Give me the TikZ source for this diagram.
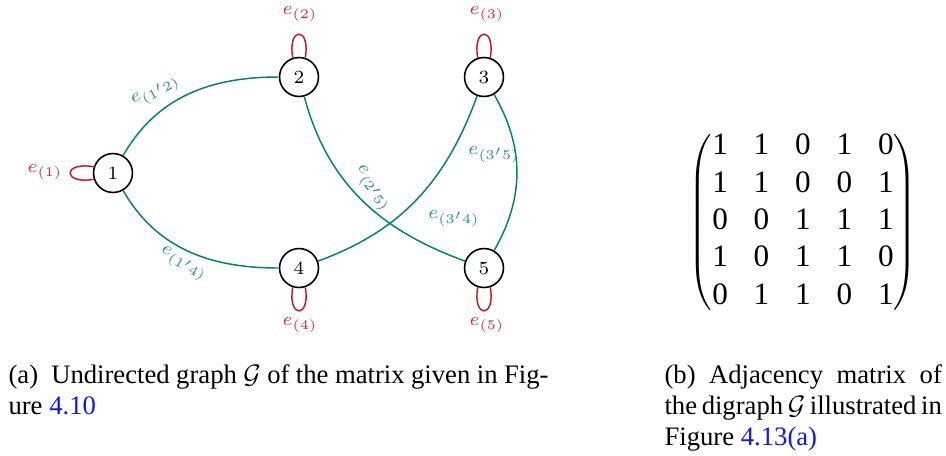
\documentclass[tikz,border=0pt]{standalone}
\usepackage{fontspec}
\newfontfamily\capfont{Liberation Serif}
\definecolor{edgeteal}{RGB}{0,128,120}
\definecolor{labteal}{RGB}{40,145,135}
\definecolor{loopred}{RGB}{200,20,40}
\definecolor{labred}{RGB}{215,40,60}
\definecolor{linkblue}{RGB}{20,20,240}
\begin{document}
\begin{tikzpicture}[x=0.375pt,y=-0.375pt,
  vtx/.style={circle,draw,line width=0.6pt,minimum size=14.6pt,inner sep=0pt,font=\fontsize{7.5}{9}\selectfont},
  edg/.style={draw=edgeteal,line width=0.55pt},
  lp/.style={draw=loopred,line width=0.55pt},
  elab/.style={text=labteal,font=\fontsize{7.5}{9}\selectfont,inner sep=0pt},
  llab/.style={text=labred,font=\fontsize{7.5}{9}\selectfont,inner sep=0pt},
  captext/.style={font=\capfont\fontsize{10}{11.6}\selectfont, anchor=base west, inner sep=0pt}]
\useasboundingbox (0,0) rectangle (946,455);
% vertices
\node[vtx] (n1) at (113,173) {$1$};
\node[vtx] (n2) at (299,77) {$2$};
\node[vtx] (n3) at (484,77) {$3$};
\node[vtx] (n4) at (299,268) {$4$};
\node[vtx] (n5) at (484,268) {$5$};
% loops
\draw[lp] (n1.162) to[out=170,in=190,distance=12pt] (n1.198);
\draw[lp] (n2.108) to[out=100,in=80,distance=12pt] (n2.72);
\draw[lp] (n3.108) to[out=100,in=80,distance=12pt] (n3.72);
\draw[lp] (n4.-108) to[out=-100,in=-80,distance=12pt] (n4.-72);
\draw[lp] (n5.-108) to[out=-100,in=-80,distance=12pt] (n5.-72);
\node[llab] (l1) at (45,172) {$e_{(1)}$};
\node[llab] (l2) at (300,14) {$e_{(2)}$};
\node[llab] (l3) at (487,14) {$e_{(3)}$};
\node[llab] (l4) at (300,325) {$e_{(4)}$};
\node[llab] (l5) at (487,325) {$e_{(5)}$};
% edges
\draw[edg] (n1) to[out=60,in=180] (n2);
\draw[edg] (n1) to[out=-60,in=180] (n4);
\draw[edg] (n2) to[out=-75,in=160] (n5);
\draw[edg] (n4) to[out=20,in=-110] (n3);
\draw[edg] (n3) to[out=-60,in=60] (n5);
% edge labels
\node[elab,rotate=27] (e12) at (156,92) {$e_{(1'2)}$};
\node[elab,rotate=-29] (e14) at (183,264) {$e_{(1'4)}$};
\node[elab,rotate=-55] (e25) at (372,189) {$e_{(2'5)}$};
\node[elab] (e34) at (454,219) {$e_{(3'4)}$};
\node[elab] (e35) at (494,155) {$e_{(3'5)}$};
% matrix
\node[font=\capfont\fontsize{11.7}{14}\selectfont,inner sep=0pt] (mat) at (803,222)
 {\setlength{\tabcolsep}{4.85pt}$\left(\begin{tabular}{@{}ccccc@{}}
 1&1&0&1&0\\ 1&1&0&0&1\\ 0&0&1&1&1\\ 1&0&1&1&0\\ 0&1&1&0&1
 \end{tabular}\right)$};
% captions
\node[captext] (ca1) at (8,383) {\makebox[202.5pt][s]{(a)\hspace{0.25em} Undirected graph $\mathcal{G}$ of the matrix given in Fig-}};
\node[captext] (ca2) at (8,414) {ure \textcolor{linkblue}{4.10}};
\node[captext] (cb1) at (664,383) {\makebox[104pt][s]{(b)\hfill Adjacency\hfill matrix\hfill of}};
\node[captext] (cb2) at (664,414) {\makebox[104pt][s]{the digraph $\mathcal{G}$ illustrated in}};
\node[captext] (cb3) at (664,445) {Figure \textcolor{linkblue}{4.13(a)}};
\end{tikzpicture}
\end{document}
